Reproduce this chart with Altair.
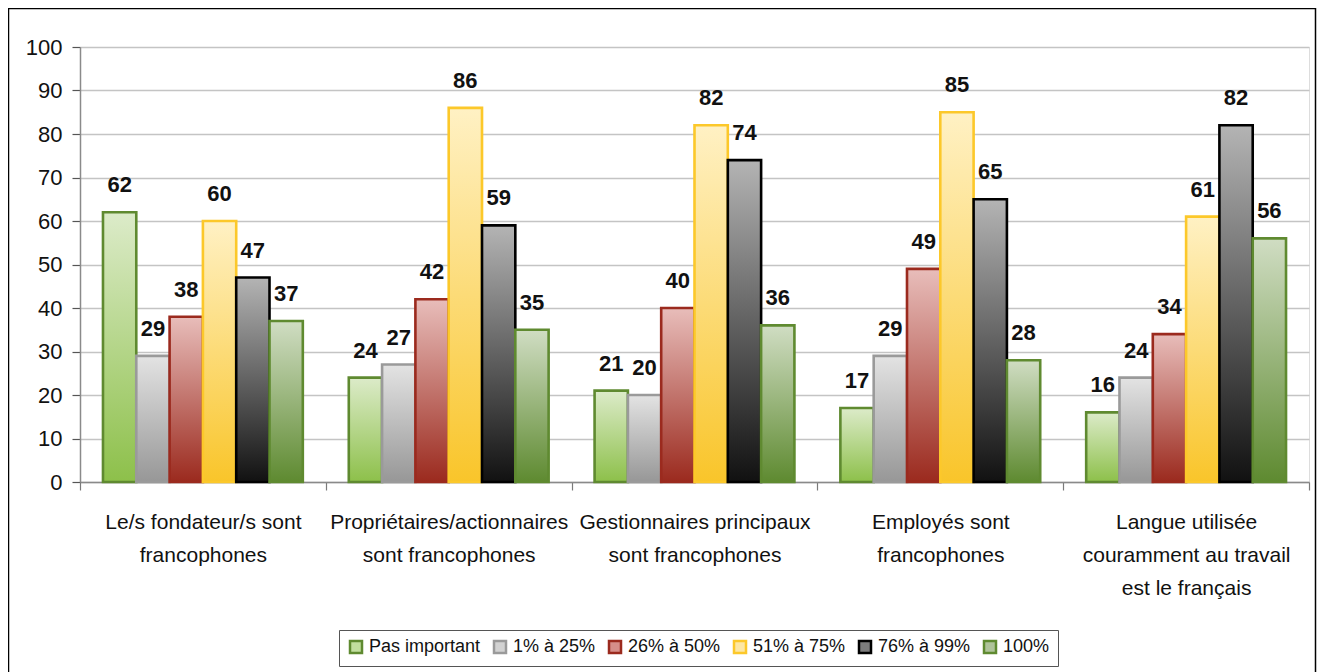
import altair as alt
import pandas as pd

categories = [
    "Le/s fondateur/s sont\nfrancophones",
    "Propriétaires/actionnaires\nsont francophones",
    "Gestionnaires principaux\nsont francophones",
    "Employés sont\nfrancophones",
    "Langue utilisée\ncouramment au travail\nest le français",
]
series = ["Pas important", "1% à 25%", "26% à 50%", "51% à 75%", "76% à 99%", "100%"]

pas_important = [62, 24, 21, 17, 16]
pct_1_25 = [29, 27, 20, 29, 24]
pct_26_50 = [38, 42, 40, 49, 34]
pct_51_75 = [60, 86, 82, 85, 61]
pct_76_99 = [47, 59, 74, 65, 82]
pct_100 = [37, 35, 36, 28, 56]

series_values = [pas_important, pct_1_25, pct_26_50, pct_51_75, pct_76_99, pct_100]

# style: (gradient top, gradient bottom, stroke)
styles = [
    ("#dcebc9", "#8dc04a", "#5f8a30"),
    ("#e3e3e3", "#979797", "#9a9a9a"),
    ("#e8bdba", "#9b2a1e", "#9b2a1e"),
    ("#fff1c4", "#f9c52a", "#fcc82a"),
    ("#b4b4b4", "#111111", "#000000"),
    ("#d0ddc3", "#5e8a30", "#5f8a30"),
]
legend_fill = ["#c2df9f", "#d2d2d2", "#d68e89", "#fde7a4", "#7c7c7c", "#afc39a"]

rows = []
for s, vals in zip(series, series_values):
    for c, v in zip(categories, vals):
        rows.append({"categorie": c, "serie": s, "valeur": v})
df = pd.DataFrame(rows)

FONT = "'Liberation Sans', Arial, sans-serif"
W, H = 1229, 435

x_enc = alt.X(
    "categorie:N",
    sort=categories,
    scale=alt.Scale(paddingInner=0, paddingOuter=0),
    axis=alt.Axis(
        title=None,
        labelAngle=0,
        labelExpr="split(datum.label, '\\n')",
        labelFontSize=21,
        labelLineHeight=33,
        labelPadding=21,
        labelLimit=400,
        labelColor="#111111",
        labelFont=FONT,
        tickBand="extent",
        tickSize=8,
        tickColor="#7a7a7a",
        tickWidth=1.2,
        domainColor="#8a8a8a",
        domainWidth=1.5,
        grid=False,
    ),
)
xoff_enc = alt.XOffset(
    "serie:N",
    sort=series,
    scale=alt.Scale(domain=series, paddingInner=0, paddingOuter=0.69),
)
y_enc = alt.Y(
    "valeur:Q",
    scale=alt.Scale(domain=[0, 100], nice=False),
    axis=alt.Axis(
        title=None,
        values=list(range(0, 101, 10)),
        labelFontSize=22,
        labelFont=FONT,
        labelColor="#111111",
        labelPadding=10,
        tickSize=8,
        tickColor="#555555",
        tickWidth=1.2,
        domainColor="#8a8a8a",
        domainWidth=1.5,
        gridColor="#c4c4c4",
        gridWidth=1.6,
    ),
)

base = alt.Chart(df)

layers = []
for s, (top, bottom, stroke) in zip(series, styles):
    grad = alt.Gradient(
        gradient="linear",
        x1=0, y1=0, x2=0, y2=1,
        stops=[
            alt.GradientStop(color=top, offset=0),
            alt.GradientStop(color=bottom, offset=1),
        ],
    )
    layers.append(
        base.transform_filter(alt.datum.serie == s)
        .mark_bar(fill=grad, stroke=stroke, strokeWidth=2.6)
        .encode(x=x_enc, xOffset=xoff_enc, y=y_enc)
    )

legend_layer = base.mark_square(opacity=0, size=1).encode(
    x=x_enc,
    xOffset=xoff_enc,
    y=y_enc,
    fill=alt.Fill(
        "serie:N",
        sort=series,
        scale=alt.Scale(domain=series, range=legend_fill),
        legend=alt.Legend(
            title=None,
            orient="none",
            legendX=259,
            legendY=583,
            direction="horizontal",
            symbolType="square",
            symbolSize=144,
            symbolOpacity=1,
            symbolStrokeWidth=2.5,
            labelFontSize=18,
            labelFont=FONT,
            labelColor="#111111",
            labelOffset=4,
            labelLimit=300,
            columnPadding=8,
            padding=8,
            strokeColor="#555555",
            fillColor="white",
            columns=6,
        ),
    ),
    stroke=alt.Stroke(
        "serie:N",
        sort=series,
        scale=alt.Scale(domain=series, range=[st[2] for st in styles]),
        legend=None,
    ),
)

text_layer = base.mark_text(
    dy=-27,
    baseline="middle",
    align="center",
    fontSize=22,
    fontWeight="bold",
    font=FONT,
    color="#111111",
).encode(x=x_enc, xOffset=xoff_enc, y=y_enc, text=alt.Text("valeur:Q"))

frame = (
    alt.Chart(pd.DataFrame({"f": [0]}))
    .mark_rect(fillOpacity=0, stroke="#000000", strokeWidth=1.5)
    .encode(
        x=alt.value(-71.5),
        x2=alt.value(W + 6.5),
        y=alt.value(-38.5),
        y2=alt.value(H + 400),
    )
)

chart = (
    alt.layer(*layers, text_layer, legend_layer, frame)
    .resolve_scale(fill="independent", stroke="independent")
    .properties(
        width=W,
        height=H,
        autosize=alt.AutoSizeParams(type="none"),
        padding={"left": 72, "top": 39, "right": 8, "bottom": 190},
    )
    .configure_view(stroke=None)
    .configure(background="white", font=FONT)
)

chart.save("out.html", embed_options={"renderer": "svg", "actions": False})
